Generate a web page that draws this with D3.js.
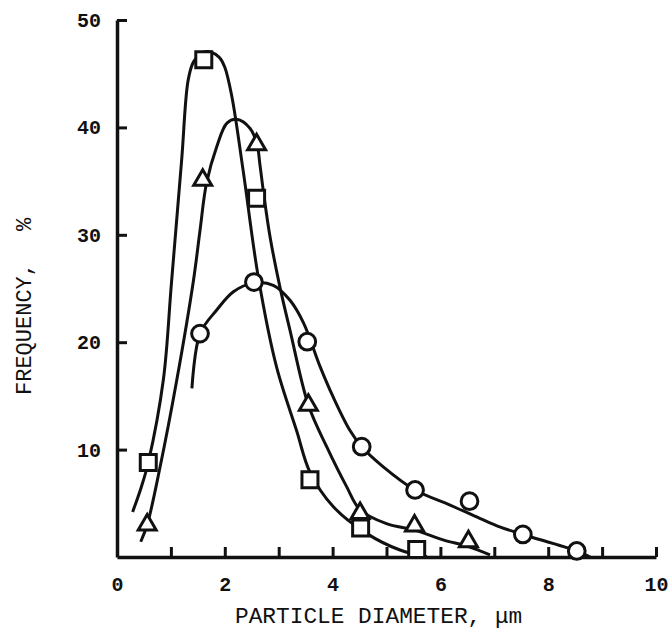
<!DOCTYPE html>
<html>
<head>
<meta charset="utf-8">
<script src="https://cdn.jsdelivr.net/npm/d3@7"></script>
<style>
  html, body { margin: 0; padding: 0; background: #fff; }
  svg { display: block; }
  text { font-family: "Liberation Mono", "DejaVu Sans Mono", monospace; fill: #111; }
</style>
</head>
<body>
<svg id="chart" width="671" height="629"></svg>
<script>
// measured points (x = particle diameter in um, y = frequency %)
const squareX = [0.58, 1.61, 2.59, 3.58, 4.52, 5.56];
const squareY = [8.8, 46.3, 33.4, 7.2, 2.7, 0.7];
const triangleX = [0.56, 1.59, 2.59, 3.55, 4.51, 5.52, 6.52];
const triangleY = [3.0, 35.1, 38.4, 14.15, 4.07, 2.9, 1.43];
const circleX = [1.54, 2.54, 3.53, 4.54, 5.53, 6.54, 7.53, 8.53];
const circleY = [20.8, 25.6, 20.05, 10.27, 6.24, 5.2, 2.1, 0.56];

// hand-drawn fitted curves
const squareCurve = [[0.29, 4.2], [0.45, 6.5], [0.58, 8.8], [0.86, 16.5], [1.01, 25.5], [1.2, 37], [1.32, 44.4],
  [1.42, 46.1], [1.6, 47.0], [1.75, 47.0], [1.9, 46.5], [2.0, 45.6], [2.13, 42.9], [2.34, 36.0], [2.62, 26.1],
  [2.96, 17.7], [3.33, 11.8], [3.58, 7.9], [4.01, 4.7], [4.63, 2.2], [5.25, 0.65], [5.75, 0.03]];
const triangleCurve = [[0.44, 1.42], [0.56, 3.0], [0.8, 8.4], [1.11, 16.5], [1.42, 25.8], [1.54, 30.4], [1.66, 34.8],
  [1.85, 38.2], [2.04, 40.4], [2.22, 40.75], [2.47, 39.9], [2.6, 38.4], [2.65, 36.6], [2.73, 33.5], [2.84, 29.8],
  [3.02, 25.2], [3.21, 21.1], [3.55, 14.15], [3.89, 10.27], [4.26, 6.55], [4.51, 4.4], [5.0, 3.1], [5.52, 2.5],
  [6.05, 1.6], [6.52, 0.96], [6.92, 0.19]];
const circleCurve = [[1.39, 15.7], [1.54, 20.8], [1.85, 23.0], [2.16, 24.7], [2.53, 25.5], [2.9, 25.3], [3.21, 23.9],
  [3.46, 21.8], [3.77, 17.7], [4.01, 14.9], [4.32, 11.8], [4.54, 10.27], [4.94, 8.4], [5.53, 6.24], [6.18, 4.84],
  [6.73, 3.6], [7.1, 2.8], [7.53, 2.1], [8.53, 0.56], [8.78, 0.0]];

const xTicks = [0, 1, 2, 3, 4, 5, 6, 7, 8, 9, 10];
const yTicks = [10, 20, 30, 40, 50];

const svg = d3.select("#chart");

const x = d3.scaleLinear().domain([0, 10]).range([117, 656]);
const y = d3.scaleLinear().domain([0, 50]).range([557, 20]);

// axes
const gx = svg.append("g")
  .attr("transform", "translate(0," + y(0) + ")")
  .call(d3.axisBottom(x)
    .tickValues(xTicks)
    .tickSizeInner(-10)
    .tickSizeOuter(0)
    .tickPadding(20)
    .tickFormat(d => d % 2 === 0 ? d : ""));
gx.selectAll(".tick").filter(d => d === 0).select("line").remove();

const gy = svg.append("g")
  .attr("transform", "translate(" + x(0) + ",0)")
  .call(d3.axisLeft(y)
    .tickValues(yTicks)
    .tickSizeInner(-10)
    .tickSizeOuter(0)
    .tickPadding(16));

svg.selectAll(".domain").attr("stroke", "#111").attr("stroke-width", 3.5);
svg.selectAll(".tick line").attr("stroke", "#111").attr("stroke-width", 3);
svg.selectAll(".tick text")
  .attr("font-family", "Liberation Mono, monospace")
  .attr("font-size", 20)
  .attr("font-weight", "bold")
  .attr("fill", "#111");

// axis titles
svg.append("text")
  .attr("x", 235)
  .attr("y", 623)
  .attr("font-size", 22.8)
  .text("PARTICLE DIAMETER, μm");

const ylab = svg.append("text")
  .attr("transform", "translate(31,395) rotate(-90)")
  .attr("font-size", 22);
ylab.append("tspan").text("FREQUENCY,");
ylab.append("tspan").attr("dx", 32).text("%");

// curves
const line = d3.line()
  .x(d => x(d[0]))
  .y(d => y(d[1]))
  .curve(d3.curveCatmullRom.alpha(0.5));

[squareCurve, triangleCurve, circleCurve].forEach(c => {
  svg.append("path")
    .datum(c)
    .attr("d", line)
    .attr("fill", "none")
    .attr("stroke", "#111")
    .attr("stroke-width", 3);
});

// markers
function drawMarkers(xs, ys, type, size) {
  svg.append("g").selectAll("path")
    .data(xs.map((v, i) => [v, ys[i]]))
    .join("path")
    .attr("transform", d => "translate(" + x(d[0]) + "," + y(d[1]) + ")")
    .attr("d", d3.symbol(type, size))
    .attr("fill", "#fff")
    .attr("stroke", "#111")
    .attr("stroke-width", 3);
}
drawMarkers(squareX, squareY, d3.symbolSquare, 256);
drawMarkers(triangleX, triangleY, d3.symbolTriangle, 140);
drawMarkers(circleX, circleY, d3.symbolCircle, 220);
</script>
</body>
</html>
